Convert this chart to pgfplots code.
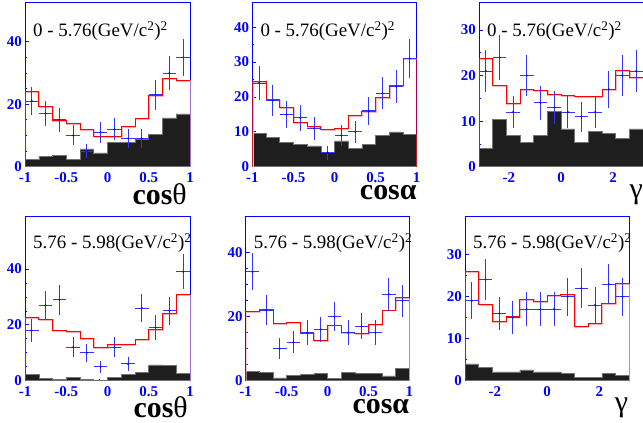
\documentclass[border=0pt]{standalone}
\usepackage{pgfplots}
\pgfplotsset{compat=1.18}
\usepackage{pgfplotstable}
\usepackage{fontspec}
\setmainfont{Liberation Serif}
\definecolor{rootblue}{RGB}{0,0,255}
\definecolor{bkgfill}{RGB}{30,30,30}
\tikzset{ttl/.style={anchor=north west, inner sep=0pt, font=\fontsize{19}{19}\selectfont}}
\newcommand\tlfont{\fontsize{15}{15}\selectfont\bfseries}
\pgfplotsset{
 panel/.style={
  scale only axis, anchor=south west,
  ymin=0, clip mode=individual,
  axis line style={rootblue, line width=0.9bp},
  every tick/.style={rootblue, line width=0.7bp},
  major tick length=4bp, minor tick length=2bp,
  tick align=inside, tick pos=left,
  /pgf/number format/assume math mode=true,
  xticklabel={\tlfont\pgfmathprintnumber{\tick}},
  yticklabel={\tlfont\pgfmathprintnumber{\tick}},
  tick label style={text=rootblue},
  yticklabel style={inner sep=0pt, xshift=-3bp},
  xticklabel style={inner sep=0pt, yshift=-6bp},
  xlabel style={at={(axis description cs:1,0)}, anchor=north east, inner sep=0pt, font=\fontsize{30}{30}\selectfont},
 },
 cospanel/.style={xmin=-1, xmax=1, xtick={-1,-0.5,0,0.5,1}, minor x tick num=4},
 gampanel/.style={xmin=-3.14159, xmax=3.14159, xtick={-2,0,2}, minor x tick num=3},
 bkg/.style={const plot, fill=bkgfill, draw=black!55, line width=0.5bp},
 fitshadow/.style={const plot, red!30, line width=1.3bp, xshift=0.6bp, yshift=-0.8bp},
 fit/.style={const plot, red, line width=0.9bp},
 dat/.style={only marks, mark=*, mark size=0.7bp, rootblue,
   error bars/x dir=both, error bars/y dir=both, error bars/y explicit,
   error bars/error mark=none,
   error bars/error bar style={rootblue!80, line width=0.9bp}},
}
% ---------- panel 1: cos theta, 0-5.76 ----------
\pgfplotstableread{
c n e
-0.9167 21 4.6
-0.75 17 4.1
-0.5833 15 3.9
-0.4167 10 3.2
-0.25 5 2.2
-0.0833 11 3.3
0.0833 12 3.5
0.25 9 3.0
0.4167 9 3.0
0.5833 23 4.8
0.75 30 5.5
0.9167 35 5.9
}\dA
\pgfplotstableread{
x y
-1 0
-1 24.0
-0.8333 19.2
-0.6667 14.9
-0.5 13.7
-0.3333 11.9
-0.1667 9.6
0 9.6
0.1667 12.8
0.3333 15.5
0.5 22.9
0.6667 28.3
0.8333 27.7
1 27.7
1 0
}\fA
\pgfplotstableread{
x y
-1 2.3
-0.8333 3.2
-0.6667 3.6
-0.5 2.3
-0.3333 5.7
-0.1667 4.4
0 7.8
0.1667 7.8
0.3333 8.8
0.5 10.3
0.6667 15.6
0.8333 16.9
1 16.9
}\bA
% ---------- panel 2: cos alpha, 0-5.76 ----------
\pgfplotstableread{
c n e
-0.9167 24 4.9
-0.75 19 4.4
-0.5833 15 3.9
-0.4167 14 3.7
-0.25 11 3.3
-0.0833 4 2.0
0.0833 9 3.0
0.25 10 3.2
0.4167 16 4.0
0.5833 21 4.6
0.75 23 4.8
0.9167 31 5.6
}\dB
\pgfplotstableread{
x y
-1 0
-1 24.3
-0.8333 19.2
-0.6667 17.0
-0.5 12.6
-0.3333 11.6
-0.1667 10.7
0 11.0
0.1667 14.7
0.3333 15.7
0.5 19.8
0.6667 23.3
0.8333 31.0
1 31.0
1 0
}\fB
\pgfplotstableread{
x y
-1 9.5
-0.8333 8.4
-0.6667 7.0
-0.5 6.5
-0.3333 6.0
-0.1667 4.1
0 7.4
0.1667 5.2
0.3333 6.5
0.5 9.0
0.6667 10.0
0.8333 9.2
1 9.2
}\bB
% ---------- panel 3: gamma, 0-5.76 ----------
\pgfplotstableread{
c n e
-2.8798 21 4.6
-2.3562 24 4.9
-1.8326 12 3.5
-1.3090 20 4.5
-0.7854 14 3.7
-0.2618 13 3.6
0.2618 12 3.5
0.7854 11 3.3
1.3090 12 3.5
1.8326 17 4.1
2.3562 20 4.5
2.8798 21 4.6
}\dC
\pgfplotstableread{
x y
-3.1416 0
-3.1416 23.8
-2.6180 17.9
-2.0944 13.9
-1.5708 17.0
-1.0472 16.8
-0.5236 15.9
0 15.6
0.5236 15.4
1.0472 15.5
1.5708 17.0
2.0944 21.1
2.6180 19.6
3.1416 19.6
3.1416 0
}\fC
\pgfplotstableread{
x y
-3.1416 4.0
-2.6180 10.4
-2.0944 6.9
-1.5708 5.3
-1.0472 6.9
-0.5236 12.1
0 8.3
0.5236 5.3
1.0472 7.8
1.5708 7.3
2.0944 6.2
2.6180 8.3
3.1416 8.3
}\bC
% ---------- panel 4: cos theta, 5.76-5.98 ----------
\pgfplotstableread{
c n e
-0.9167 18 4.2
-0.75 27 5.2
-0.5833 29 5.4
-0.4167 12 3.5
-0.25 10 3.2
-0.0833 5 2.2
0.0833 12 3.5
0.25 6 2.4
0.4167 26 5.1
0.5833 19 4.4
0.75 25 5.0
0.9167 39 6.2
}\dD
\pgfplotstableread{
x y
-1 0
-1 22.6
-0.8333 22.0
-0.6667 18.1
-0.5 17.7
-0.3333 15.2
-0.1667 11.9
0 12.8
0.1667 12.8
0.3333 14.6
0.5 18.4
0.6667 23.9
0.8333 30.7
1 30.7
1 0
}\fD
\pgfplotstableread{
x y
-1 2.3
-0.8333 0.8
-0.6667 0.5
-0.5 1.3
-0.3333 0.5
-0.1667 0.1
0 1.3
0.1667 2.3
0.3333 2.9
0.5 5.7
0.6667 5.4
0.8333 2.6
1 2.6
}\bD
% ---------- panel 5: cos alpha, 5.76-5.98 ----------
\pgfplotstableread{
c n e
-0.9167 34 5.8
-0.75 22 4.7
-0.5833 10 3.2
-0.4167 12 3.5
-0.25 15 3.9
-0.0833 16 4.0
0.0833 20 4.5
0.25 15 3.9
0.4167 17 4.1
0.5833 15 3.9
0.75 27 5.2
0.9167 25 5.0
}\dE
\pgfplotstableread{
x y
-1 0
-1 21.6
-0.8333 22.4
-0.6667 17.9
-0.5 18.2
-0.3333 14.9
-0.1667 12.5
0 17.4
0.1667 15.0
0.3333 14.8
0.5 17.6
0.6667 22.1
0.8333 26.0
1 26.0
1 0
}\fE
\pgfplotstableread{
x y
-1 3.0
-0.8333 2.6
-0.6667 0.9
-0.5 1.6
-0.3333 2.0
-0.1667 2.3
0 0.7
0.1667 2.6
0.3333 2.3
0.5 2.2
0.6667 1.5
0.8333 3.9
1 3.9
}\bE
% ---------- panel 6: gamma, 5.76-5.98 ----------
\pgfplotstableread{
c n e
-2.8798 19 4.4
-2.3562 24 4.9
-1.8326 16 4.0
-1.3090 15 3.9
-0.7854 17 4.1
-0.2618 17 4.1
0.2618 17 4.1
0.7854 20 4.5
1.3090 22 4.7
1.8326 18 4.2
2.3562 23 4.8
2.8798 20 4.5
}\dF
\pgfplotstableread{
x y
-3.1416 0
-3.1416 26.0
-2.6180 18.1
-2.0944 14.0
-1.5708 15.2
-1.0472 19.4
-0.5236 18.8
0 20.3
0.5236 20.5
1.0472 12.8
1.5708 13.6
2.0944 18.4
2.6180 23.1
3.1416 23.1
3.1416 0
}\fF
\pgfplotstableread{
x y
-3.1416 4.0
-2.6180 3.1
-2.0944 2.1
-1.5708 2.1
-1.0472 2.6
-0.5236 2.1
0 2.1
0.5236 1.7
1.0472 0.8
1.5708 0.8
2.0944 1.7
2.6180 1.3
3.1416 1.3
}\bF
\begin{document}
\begin{tikzpicture}
\useasboundingbox (0,0) rectangle (643bp,423bp);
% panel 1
\begin{axis}[panel, cospanel, at={(25bp,256.3bp)}, width=165bp, height=164bp,
  ymax=52.5, ytick={0,20,40}, minor y tick num=3,
  xlabel={\textbf{cos}θ}, xlabel style={xshift=-3bp, yshift=-17bp}]
\addplot[bkg] table[x=x,y=y]{\bA} \closedcycle;
\addplot[fitshadow] table[x=x,y=y]{\fA};
\addplot[fit] table[x=x,y=y]{\fA};
\addplot[dat, error bars/x fixed=0.0833] table[x=c,y=n,y error=e]{\dA};
\node[ttl, xshift=8bp, yshift=-19bp] at (rel axis cs:0,1) {0 - 5.76(GeV/c\textsuperscript{2})\textsuperscript{2}};
\end{axis}
% panel 2
\begin{axis}[panel, cospanel, at={(252.3bp,256.3bp)}, width=164.4bp, height=164bp,
  ymax=47, ytick={0,10,20,30,40}, minor y tick num=1,
  xlabel={\textbf{cosα}}, xlabel style={xshift=0bp, yshift=-19bp}]
\addplot[bkg] table[x=x,y=y]{\bB} \closedcycle;
\addplot[fitshadow] table[x=x,y=y]{\fB};
\addplot[fit] table[x=x,y=y]{\fB};
\addplot[dat, error bars/x fixed=0.0833] table[x=c,y=n,y error=e]{\dB};
\node[ttl, xshift=8bp, yshift=-19bp] at (rel axis cs:0,1) {0 - 5.76(GeV/c\textsuperscript{2})\textsuperscript{2}};
\end{axis}
% panel 3
\begin{axis}[panel, gampanel, at={(479bp,256.3bp)}, width=164bp, height=164bp,
  ymax=36, ytick={0,10,20,30}, minor y tick num=1,
  xlabel={γ}, xlabel style={xshift=0bp, yshift=-18bp}]
\addplot[bkg] table[x=x,y=y]{\bC} \closedcycle;
\addplot[fitshadow] table[x=x,y=y]{\fC};
\addplot[fit] table[x=x,y=y]{\fC};
\addplot[dat, error bars/x fixed=0.2618] table[x=c,y=n,y error=e]{\dC};
\node[ttl, xshift=8bp, yshift=-19bp] at (rel axis cs:0,1) {0 - 5.76(GeV/c\textsuperscript{2})\textsuperscript{2}};
\end{axis}
% panel 4
\begin{axis}[panel, cospanel, at={(25bp,42.3bp)}, width=165bp, height=164bp,
  ymax=58.7, ytick={0,20,40}, minor y tick num=3,
  xlabel={\textbf{cos}θ}, xlabel style={xshift=-2bp, yshift=-16bp}]
\addplot[bkg] table[x=x,y=y]{\bD} \closedcycle;
\addplot[fitshadow] table[x=x,y=y]{\fD};
\addplot[fit] table[x=x,y=y]{\fD};
\addplot[dat, error bars/x fixed=0.0833] table[x=c,y=n,y error=e]{\dD};
\node[ttl, xshift=8bp, yshift=-17bp] at (rel axis cs:0,1) {5.76 - 5.98(GeV/c\textsuperscript{2})\textsuperscript{2}};
\end{axis}
% panel 5
\begin{axis}[panel, cospanel, at={(245.7bp,42.3bp)}, width=163.6bp, height=164bp,
  ymax=51.25, ytick={0,20,40}, minor y tick num=3,
  xlabel={\textbf{cosα}}, xlabel style={xshift=0bp, yshift=-18.5bp}]
\addplot[bkg] table[x=x,y=y]{\bE} \closedcycle;
\addplot[fitshadow] table[x=x,y=y]{\fE};
\addplot[fit] table[x=x,y=y]{\fE};
\addplot[dat, error bars/x fixed=0.0833] table[x=c,y=n,y error=e]{\dE};
\node[ttl, xshift=8bp, yshift=-17bp] at (rel axis cs:0,1) {5.76 - 5.98(GeV/c\textsuperscript{2})\textsuperscript{2}};
\end{axis}
% panel 6
\begin{axis}[panel, gampanel, at={(465bp,42.3bp)}, width=164.3bp, height=164bp,
  ymax=39, ytick={0,10,20,30}, minor y tick num=1,
  xlabel={γ}, xlabel style={xshift=-1bp, yshift=-17bp}]
\addplot[bkg] table[x=x,y=y]{\bF} \closedcycle;
\addplot[fitshadow] table[x=x,y=y]{\fF};
\addplot[fit] table[x=x,y=y]{\fF};
\addplot[dat, error bars/x fixed=0.2618] table[x=c,y=n,y error=e]{\dF};
\node[ttl, xshift=8bp, yshift=-17bp] at (rel axis cs:0,1) {5.76 - 5.98(GeV/c\textsuperscript{2})\textsuperscript{2}};
\end{axis}
\end{tikzpicture}
\end{document}
